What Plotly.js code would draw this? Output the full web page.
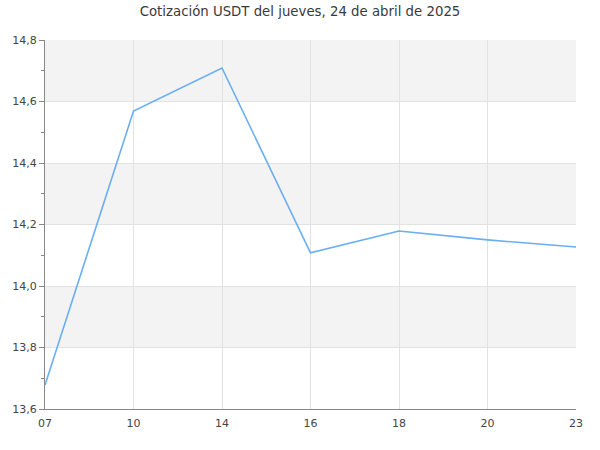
<!DOCTYPE html>
<html>
<head>
<meta charset="utf-8">
<script src="https://cdn.plot.ly/plotly-3.0.1.min.js"></script>
<style>html,body{margin:0;padding:0;background:#fff}#chart{width:600px;height:450px}</style>
</head>
<body>
<div id="chart"></div>
<script>
const hours = ["07", "10", "14", "16", "18", "20", "23"];
const prices = [13.678, 14.569, 14.709, 14.108, 14.179, 14.150, 14.127];
const bandStarts = [13.8, 14.2, 14.6];
const bandWidth = 0.2;
const titleText = "Cotización USDT del jueves, 24 de abril de 2025";

const shapes = bandStarts.map(b => ({
  type: 'rect', xref: 'paper', yref: 'y', x0: 0, x1: 1, y0: b, y1: b + bandWidth,
  fillcolor: '#f3f3f3', line: {width: 0}, layer: 'below'
}));

const trace = {
  x: hours, y: prices, type: 'scatter', mode: 'lines',
  line: {color: '#6aaef2', width: 1.6},
  hoverinfo: 'x+y'
};

const layout = {
  width: 600, height: 450,
  margin: {l: 45, r: 24, t: 40, b: 41},
  paper_bgcolor: '#fff', plot_bgcolor: '#fff',
  separators: ',.',
  font: {family: 'DejaVu Sans', size: 11, color: '#333'},
  title: {text: titleText, font: {family: 'DejaVu Sans', size: 13.3, color: '#3a3a3a'}, x: 0.5, xanchor: 'center', y: 0.975, yanchor: 'middle'},
  showlegend: false,
  shapes: shapes,
  xaxis: {
    type: 'category', range: [0, hours.length - 1],
    showgrid: true, gridcolor: '#e2e2e2', gridwidth: 1,
    showline: true, linecolor: '#888', linewidth: 1,
    ticks: '', zeroline: false, ticklabelstandoff: 4,
    tickfont: {size: 11, color: '#444'}
  },
  yaxis: {
    range: [13.6, 14.8], dtick: 0.2, tick0: 13.6, tickformat: '.1f',
    showgrid: true, gridcolor: '#e2e2e2', gridwidth: 1,
    showline: true, linecolor: '#888', linewidth: 1,
    ticks: 'outside', ticklen: 5, tickcolor: '#888',
    minor: {dtick: 0.1, tick0: 13.6, ticks: 'outside', ticklen: 3, tickcolor: '#888', showgrid: false},
    zeroline: false,
    tickfont: {size: 11, color: '#444'}
  }
};

Plotly.newPlot('chart', [trace], layout, {displayModeBar: false, staticPlot: true});
</script>
</body>
</html>
